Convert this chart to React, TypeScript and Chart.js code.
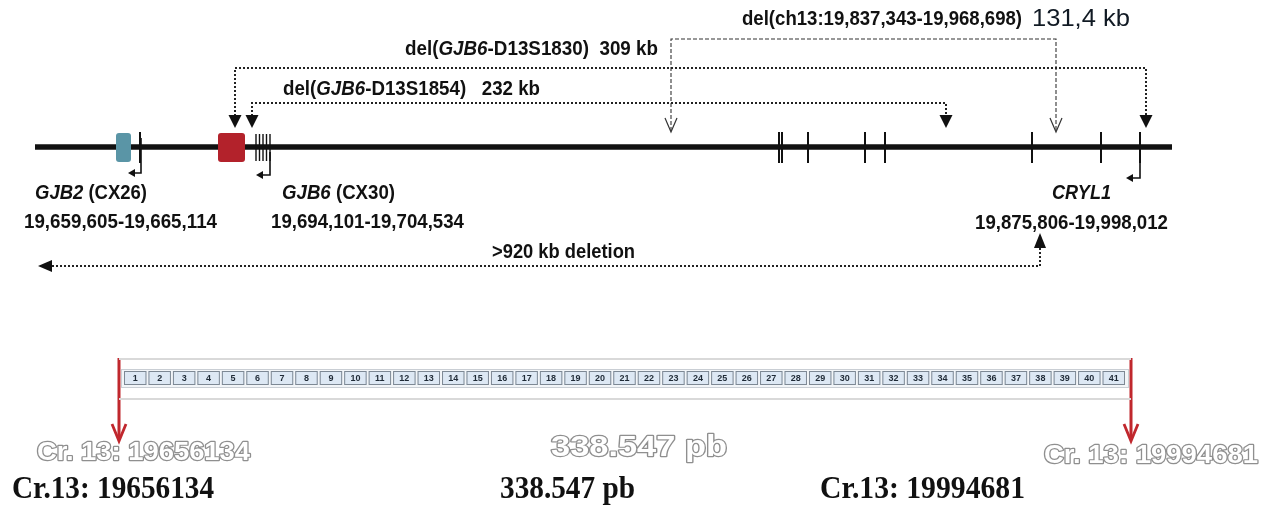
import React, { useEffect, useRef } from 'react';
import { Chart, registerables } from 'chart.js';
Chart.register(...registerables);

const W = 1276;
const H = 506;

// ---- diagram data (diagram units: x across, y down) ----
const backboneX = [35, 1172];
const backboneY = 147;
const geneTicks = [140, 779, 782, 808, 865, 885, 1032, 1101, 1140];
const gjb6Exons = [256, 259.5, 263, 266.5, 270];
const geneBoxNames = ['GJB2', 'GJB6'];
const geneBoxStart = [116, 218];
const geneBoxEnd = [131, 245];
const geneBoxColors = ['#5a95a6', '#b3222b'];

// transcription direction hooks: x, top, bottom, end x
const hookX = [141, 270, 1140];
const hookTop = [138, 152, 138];
const hookBottom = [173, 175, 178];
const hookEnd = [128, 256, 1126];

// deletions
const delNames = ['del(GJB6-D13S1830)', 'del(GJB6-D13S1854)', 'del(ch13:19,837,343-19,968,698)'];
const delStart = [235, 252, 671];
const delEnd = [1146, 946, 1056];
const delLevel = [68, 103, 39];
const delSizes = ['309 kb', '232 kb', '131,4 kb'];

const bigDelFrom = 1040;
const bigDelTo = 38;
const bigDelLevel = 266;

// bottom bins
const binLabels = Array.from({ length: 41 }, (_, i) => String(i + 1));
const binRange = [123, 1126];
const bracketX = [119, 1131];
const coordLabels = ['Cr. 13: 19656134', '338.547 pb', 'Cr. 13: 19994681'];
const coordLabelsSerif = ['Cr.13: 19656134', '338.547 pb', 'Cr.13: 19994681'];

const SANS = '"Liberation Sans Narrow", "Liberation Sans", Arial, sans-serif';
const ARIAL = '"Liberation Sans", Arial, sans-serif';
const SERIF = '"Liberation Serif", "Times New Roman", serif';

type Part = [string, boolean];

function drawFit(
  ctx: CanvasRenderingContext2D,
  parts: Part[],
  x0: number,
  x1: number,
  yc: number,
  size: number,
  family: string,
  weight: string,
  color: string,
  outline?: string
) {
  ctx.save();
  const fonts = parts.map(([, it]) => `${it ? 'italic ' : ''}${weight} ${size}px ${family}`);
  const widths = parts.map(([t], i) => {
    ctx.font = fonts[i];
    return ctx.measureText(t).width;
  });
  const total = widths.reduce((a, b) => a + b, 0);
  const s = (x1 - x0) / total;
  ctx.translate(x0, yc);
  ctx.scale(s, 1);
  ctx.textBaseline = 'middle';
  ctx.textAlign = 'left';
  let cx = 0;
  parts.forEach(([t], i) => {
    ctx.font = fonts[i];
    if (outline) {
      ctx.lineWidth = 2.4;
      ctx.strokeStyle = outline;
      ctx.lineJoin = 'round';
      ctx.strokeText(t, cx, 0);
      ctx.fillStyle = color;
      ctx.fillText(t, cx, 0);
    } else {
      ctx.fillStyle = color;
      ctx.fillText(t, cx, 0);
    }
    cx += widths[i];
  });
  ctx.restore();
}

export default function App() {
  const ref = useRef<HTMLCanvasElement>(null);

  useEffect(() => {
    document.body.style.margin = '0';
    const canvas = ref.current!;
    const pt = (x: number, y: number | null) => ({ x, y });
    const gap = (x: number) => ({ x, y: null });

    const line = (data: any[], color: string, width: number, dash: number[] = []) => ({
      type: 'line' as const,
      data,
      borderColor: color,
      borderWidth: width,
      borderDash: dash,
      pointRadius: 0,
      showLine: true,
      spanGaps: false,
      fill: false,
      tension: 0,
    });

    const tickData: any[] = [];
    geneTicks.forEach((x) => {
      tickData.push(pt(x, 132), pt(x, 163), gap(x));
    });
    const exonData: any[] = [];
    gjb6Exons.forEach((x) => {
      exonData.push(pt(x, 134), pt(x, 161), gap(x));
    });
    const hookData: any[] = [];
    hookX.forEach((x, i) => {
      hookData.push(pt(x, hookTop[i]), pt(x, hookBottom[i]), pt(hookEnd[i] + 4, hookBottom[i]), gap(x));
    });

    const delPath = (i: number, bottom: number) => [
      pt(delStart[i], bottom),
      pt(delStart[i], delLevel[i]),
      pt(delEnd[i], delLevel[i]),
      pt(delEnd[i], bottom),
    ];

    const datasets: any[] = [
      line([pt(backboneX[0], backboneY), pt(backboneX[1], backboneY)], '#111', 5.5),
      line(tickData, '#111', 2),
      line(exonData, '#111', 1.4),
      line(hookData, '#111', 1.6),
      line(delPath(0, 116), '#222', 2, [2, 2]),
      line(delPath(1, 116), '#222', 2, [2, 2]),
      line(delPath(2, 131), '#333', 1.1, [4, 2]),
      line(
        [pt(bigDelFrom, 248), pt(bigDelFrom, bigDelLevel), pt(bigDelTo + 12, bigDelLevel)],
        '#222',
        2,
        [2, 2]
      ),
      line([pt(bracketX[0], 359), pt(bracketX[1], 359)], '#d9d9d9', 2),
      line([pt(bracketX[0], 399), pt(bracketX[1], 399)], '#d9d9d9', 2),
      line([pt(bracketX[0], 358), pt(bracketX[0], 440)], '#c0272d', 3),
      line([pt(bracketX[1], 358), pt(bracketX[1], 440)], '#c0272d', 3),
    ];

    const overlay = {
      id: 'overlay',
      afterDatasetsDraw(chart: any) {
        const c: CanvasRenderingContext2D = chart.ctx;
        const xs = chart.scales.x;
        const ys = chart.scales.y;
        const X = (v: number) => xs.getPixelForValue(v);
        const Y = (v: number) => ys.getPixelForValue(v);

        // gene boxes
        geneBoxNames.forEach((_, i) => {
          c.save();
          c.fillStyle = geneBoxColors[i];
          c.beginPath();
          (c as any).roundRect(X(geneBoxStart[i]), Y(133), X(geneBoxEnd[i]) - X(geneBoxStart[i]), Y(162) - Y(133), 3);
          c.fill();
          c.restore();
        });

        const tri = (pts: number[][], fill = true) => {
          c.save();
          c.beginPath();
          c.moveTo(X(pts[0][0]), Y(pts[0][1]));
          pts.slice(1).forEach((p) => c.lineTo(X(p[0]), Y(p[1])));
          if (fill) {
            c.closePath();
            c.fillStyle = '#111';
            c.fill();
          } else {
            c.strokeStyle = '#333';
            c.lineWidth = 1.2;
            c.stroke();
          }
          c.restore();
        };

        // filled down arrowheads for the two GJB6 deletions
        [0, 1].forEach((i) => {
          [delStart[i], delEnd[i]].forEach((x) => {
            tri([[x - 6.5, 115], [x + 6.5, 115], [x, 128]]);
          });
        });
        // open arrowheads for ch13 deletion
        [delStart[2], delEnd[2]].forEach((x) => {
          tri([[x - 6, 118], [x, 132], [x + 6, 118]], false);
        });
        // >920 kb arrows
        tri([[bigDelFrom - 6, 248], [bigDelFrom + 6, 248], [bigDelFrom, 233]]);
        tri([[bigDelTo, bigDelLevel], [bigDelTo + 14, bigDelLevel - 6], [bigDelTo + 14, bigDelLevel + 6]]);
        // hook arrowheads
        hookX.forEach((_, i) => {
          const y = hookBottom[i];
          tri([[hookEnd[i], y], [hookEnd[i] + 7, y - 4], [hookEnd[i] + 7, y + 4]]);
        });

        // red bracket arrowheads
        bracketX.forEach((x) => {
          c.save();
          c.strokeStyle = '#c0272d';
          c.lineWidth = 2.8;
          c.beginPath();
          c.moveTo(X(x - 7), Y(424));
          c.lineTo(X(x), Y(441));
          c.lineTo(X(x + 7), Y(424));
          c.stroke();
          c.restore();
        });

        // bins
        const bw = (binRange[1] - binRange[0]) / binLabels.length;
        c.save();
        c.fillStyle = '#f2f5f8';
        c.strokeStyle = '#c9ced4';
        c.lineWidth = 1;
        c.fillRect(X(binRange[0] - 2), Y(369), X(binRange[1] + 2) - X(binRange[0] - 2), Y(387) - Y(369));
        c.strokeRect(X(binRange[0] - 2) + 0.5, Y(369) + 0.5, X(binRange[1] + 2) - X(binRange[0] - 2), Y(387) - Y(369));
        binLabels.forEach((lab, i) => {
          const x0 = X(binRange[0] + i * bw);
          const x1 = X(binRange[0] + (i + 1) * bw);
          c.fillStyle = '#dde8f4';
          c.fillRect(x0 + 1, Y(371), x1 - x0 - 2, Y(385) - Y(371));
          c.strokeStyle = '#7d8894';
          c.lineWidth = 1;
          c.strokeRect(x0 + 1.5, Y(371) + 0.5, x1 - x0 - 3, Y(385) - Y(371) - 1);
          c.fillStyle = '#1f2a36';
          c.font = `bold 9px ${ARIAL}`;
          c.textAlign = 'center';
          c.textBaseline = 'middle';
          c.fillText(lab, (x0 + x1) / 2, Y(378.5));
        });
        c.restore();

        // ---- text ----
        const T = (parts: Part[], x0: number, x1: number, y: number, size = 20, weight = 'bold', color = '#111', fam = SANS) =>
          drawFit(c, parts, X(x0), X(x1), Y(y), size, fam, weight, color);

        T([['del(', false], ['GJB6', true], ['-D13S1830)  ' + delSizes[0], false]], 405, 658, 49);
        T([['del(', false], ['GJB6', true], ['-D13S1854)   ' + delSizes[1], false]], 283, 540, 89);
        T([[delNames[2], false]], 742, 1022, 19);
        T([[delSizes[2], false]], 1032, 1130, 19, 24, 'normal', '#111a24');
        T([['GJB2', true], [' (CX26)', false]], 35, 147, 193);
        T([['19,659,605-19,665,114', false]], 24, 217, 222);
        T([['GJB6', true], [' (CX30)', false]], 282, 395, 193);
        T([['19,694,101-19,704,534', false]], 271, 464, 222);
        T([['CRYL1', true]], 1052, 1111, 193);
        T([['19,875,806-19,998,012', false]], 975, 1168, 223);
        T([['>920 kb deletion', false]], 492, 635, 252);

        // outlined coordinate labels
        const O = (t: string, x0: number, x1: number, y: number, size: number) =>
          drawFit(c, [[t, false]], X(x0), X(x1), Y(y), size, ARIAL, 'bold', '#ffffff', '#8f8f8f');
        O(coordLabels[0], 37, 250, 453, 25);
        O(coordLabels[1], 551, 727, 448, 29);
        O(coordLabels[2], 1044, 1258, 456, 25);

        // serif bold labels
        T([[coordLabelsSerif[0], false]], 12, 214, 490, 31, 'bold', '#111', SERIF);
        T([[coordLabelsSerif[1], false]], 500, 635, 490, 31, 'bold', '#111', SERIF);
        T([[coordLabelsSerif[2], false]], 820, 1025, 490, 31, 'bold', '#111', SERIF);
      },
    };

    const chart = new Chart(canvas, {
      type: 'scatter',
      data: { datasets },
      options: {
        responsive: false,
        animation: false,
        events: [],
        layout: { padding: 0 },
        plugins: { legend: { display: false }, tooltip: { enabled: false } },
        scales: {
          x: { type: 'linear', min: 0, max: W, display: false },
          y: { type: 'linear', min: 0, max: H, reverse: true, display: false },
        },
      },
      plugins: [overlay],
    } as any);
    return () => chart.destroy();
  }, []);

  return <canvas ref={ref} width={W} height={H} style={{ display: 'block', width: W, height: H }} />;
}
